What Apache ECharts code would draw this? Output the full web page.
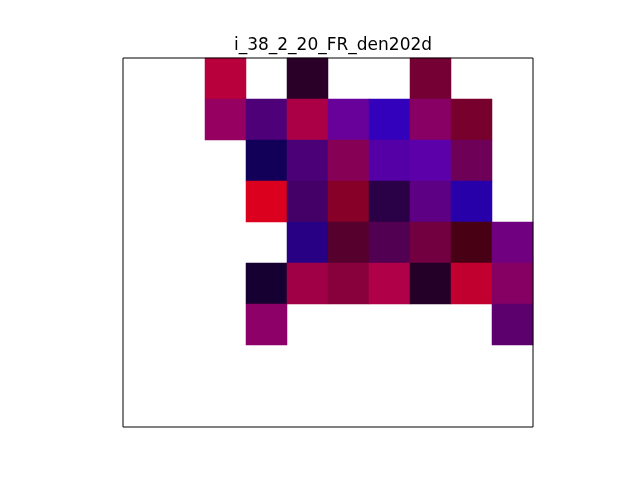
<!DOCTYPE html>
<html>
<head>
<meta charset="utf-8">
<script src="https://cdn.jsdelivr.net/npm/echarts@6/dist/echarts.min.js"></script>
<style>
  html, body { margin: 0; padding: 0; background: #fff; }
  #chart { width: 640px; height: 480px; }
</style>
</head>
<body>
<div id="chart"></div>
<script>
// 10 columns x 9 rows, row 0 at top; null = empty cell
var cols = [0, 1, 2, 3, 4, 5, 6, 7, 8, 9]
var rows = [0, 1, 2, 3, 4, 5, 6, 7, 8]

var row0 = [null, null, '#B8003C', null, '#2A0028', null, null, '#750034', null, null]
var row1 = [null, null, '#960060', '#4E0078', '#AC0046', '#68009A', '#3300BB', '#880064', '#78002C', null]
var row2 = [null, null, null, '#120058', '#4C0078', '#860056', '#5400A6', '#5C00AA', '#6E0058', null]
var row3 = [null, null, null, '#DA001E', '#440066', '#860028', '#2A0046', '#5E0084', '#2800AA', null]
var row4 = [null, null, null, null, '#280084', '#56002E', '#520052', '#720040', '#480014', '#700080']
var row5 = [null, null, null, '#160032', '#A00046', '#88003C', '#B00048', '#240028', '#C20030', '#860064']
var row6 = [null, null, null, '#8C0068', null, null, null, null, null, '#5C006E']
var row7 = [null, null, null, null, null, null, null, null, null, null]
var row8 = [null, null, null, null, null, null, null, null, null, null]

var cellRows = [row0, row1, row2, row3, row4, row5, row6, row7, row8]

let cells = []
cellRows.forEach(function (r, y) {
  r.forEach(function (c, x) {
    if (c) {
      cells.push({ value: [x, y, 1], itemStyle: { color: c } })
    }
  })
})

let myChart = echarts.init(document.getElementById('chart'))
myChart.setOption({
  animation: false,
  title: {
    text: 'i_38_2_20_FR_den202d',
    left: 328,
    textAlign: 'center',
    top: 32,
    textStyle: {
      fontFamily: 'DejaVu Sans',
      fontSize: 17,
      fontWeight: 'normal',
      color: '#000'
    }
  },
  grid: {
    left: 123,
    right: 107,
    top: 58,
    bottom: 53,
    show: true,
    borderColor: '#000',
    borderWidth: 1,
    z: 10
  },
  xAxis: {
    type: 'category',
    data: cols,
    axisLine: { show: false },
    axisTick: { show: false },
    axisLabel: { show: false },
    splitLine: { show: false }
  },
  yAxis: {
    type: 'category',
    data: rows,
    inverse: true,
    axisLine: { show: false },
    axisTick: { show: false },
    axisLabel: { show: false },
    splitLine: { show: false }
  },
  series: [{
    type: 'heatmap',
    data: cells,
    itemStyle: { borderWidth: 0 }
  }]
})
</script>
</body>
</html>
